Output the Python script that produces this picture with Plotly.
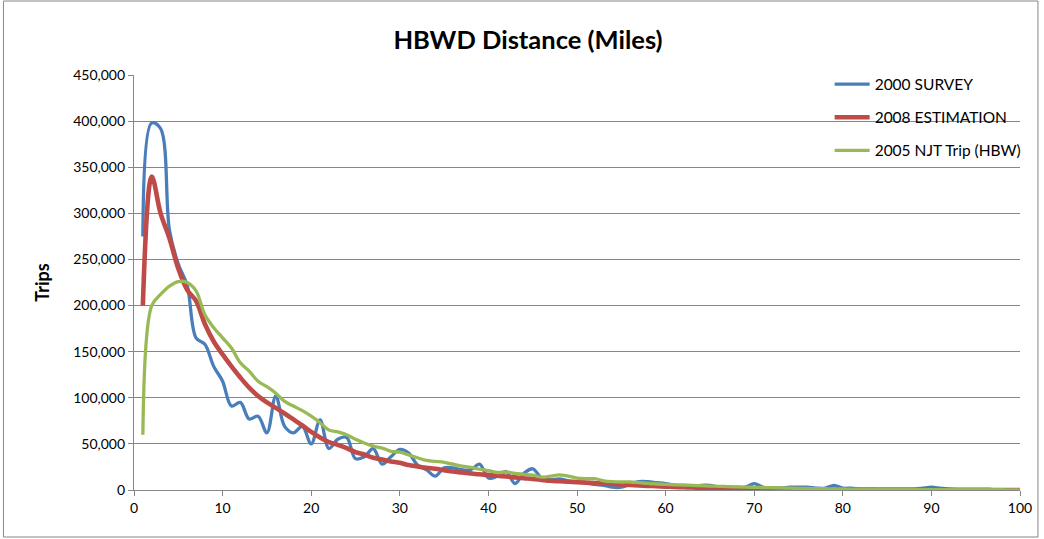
import plotly.graph_objects as go

# ---- data ----
miles = list(range(1, 101))

survey_2000 = [
    275000, 398000, 392000, 282000, 245000, 222000, 165000, 158000, 134000, 118000,
    91000, 95000, 77000, 80000, 62000, 102000, 69000, 62000, 69000, 50000,
    76000, 45000, 55000, 57000, 34000, 36000, 45000, 28000, 36000, 44000,
    40000, 27000, 22000, 15000, 24000, 24000, 22000, 22000, 28000, 13000,
    15000, 20000, 7000, 18000, 23000, 13000, 11000, 12000, 10000, 9000,
    8000, 6000, 5000, 3000, 3000, 6000, 9000, 9000, 8000, 7000,
    5000, 4000, 4000, 5000, 5000, 3000, 2000, 3000, 3000, 7000,
    3000, 2000, 2000, 3000, 3000, 3000, 2000, 2000, 5000, 2000,
    2000, 1000, 1000, 1000, 1000, 1000, 1000, 1000, 2000, 3000,
    2000, 1000, 500, 500, 300, 300, 200, 200, 100, 100,
]

estimation_2008 = [
    200000, 340000, 300000, 273000, 240000, 217000, 205000, 180000, 161000, 147000,
    134000, 122000, 111000, 102000, 95000, 89000, 83000, 76500, 70000, 63000,
    57000, 52000, 49000, 45500, 41000, 38500, 35000, 33000, 31000, 29500,
    27000, 25500, 24000, 23000, 21500, 20000, 19000, 18000, 17000, 16400,
    15500, 14600, 13700, 12800, 12000, 11000, 10000, 9500, 9000, 8500,
    8000, 7500, 7000, 6500, 6000, 5500, 5000, 4500, 4000, 3600,
    3300, 3000, 2700, 2400, 2100, 1900, 1700, 1500, 1300, 1200,
    1100, 1000, 900, 800, 750, 700, 650, 600, 550, 500,
    450, 400, 380, 350, 320, 300, 280, 250, 230, 200,
    180, 160, 150, 130, 120, 100, 80, 60, 40, 20,
]

njt_2005 = [
    60000, 200000, 212000, 221000, 226000, 225000, 216000, 190000, 176000, 165000,
    154000, 138000, 129000, 118000, 112000, 105000, 96000, 91000, 86000, 80000,
    73000, 65000, 63000, 60000, 55000, 51000, 47500, 45500, 42000, 41000,
    38000, 35000, 32000, 31000, 30000, 28000, 26000, 24500, 22500, 21000,
    19000, 19500, 18000, 17000, 16000, 14000, 15000, 16500, 15000, 13000,
    12300, 12300, 10000, 9000, 8700, 8700, 8000, 7200, 6500, 6100,
    5700, 5400, 5000, 4700, 4300, 4000, 3700, 3300, 3100, 2900,
    2700, 2500, 2300, 2000, 1800, 1700, 1500, 1400, 1200, 1100,
    1000, 950, 900, 800, 700, 650, 600, 550, 500, 500,
    450, 400, 400, 350, 300, 300, 250, 250, 200, 200,
]

series_names = ["2000 SURVEY", "2008 ESTIMATION", "2005 NJT Trip (HBW)"]
x_ticks = list(range(0, 101, 10))
y_ticks = list(range(0, 450001, 50000))

FONT = "Lato"
W, H = 1044, 539
ML, MR, MT, MB = 134, 21, 75, 49
PW, PH = W - ML - MR, H - MT - MB

fig = go.Figure()
fig.add_trace(go.Scatter(x=miles, y=survey_2000, name=series_names[0], mode="lines",
                         line=dict(color="#4A7EBB", width=3.3, shape="spline", smoothing=1.0),
                         legendgroup="a"))
fig.add_trace(go.Scatter(x=miles, y=estimation_2008, name=series_names[1], mode="lines",
                         line=dict(color="#BE4B48", width=4.6, shape="spline", smoothing=1.0),
                         legendgroup="b"))
fig.add_trace(go.Scatter(x=miles, y=njt_2005, name=series_names[2], mode="lines",
                         line=dict(color="#98B954", width=3.3, shape="spline", smoothing=1.0),
                         legendgroup="c"))

fig.update_layout(
    width=W, height=H,
    margin=dict(l=ML, r=MR, t=MT, b=MB, pad=0),
    paper_bgcolor="white", plot_bgcolor="white",
    font=dict(family=FONT, size=14, color="#000000"),
    title=dict(text="<b>HBWD Distance (Miles)</b>", x=(528) / W, xanchor="center",
               y=1 - 40 / H, yanchor="middle", font=dict(family=FONT, size=25.5, color="#000000")),
    legend=dict(x=(832 - ML) / PW, y=1.018, xanchor="left", yanchor="top",
                bgcolor="rgba(0,0,0,0)", font=dict(family=FONT, size=15.5, color="#000000"),
                tracegroupgap=10, itemwidth=35),
    showlegend=True,
)

fig.update_xaxes(range=[0, 100], tickvals=x_ticks, ticktext=[str(v) for v in x_ticks],
                 showgrid=False, zeroline=False, showline=True, linecolor="#868686", linewidth=1.2,
                 ticks="outside", ticklen=5, tickcolor="#868686",
                 tickfont=dict(family=FONT, size=14, color="#000000"))
fig.update_yaxes(range=[0, 450000], tickvals=y_ticks, ticktext=[f"{v:,}" for v in y_ticks],
                 showgrid=True, gridcolor="#868686", gridwidth=1.1, zeroline=False,
                 showline=True, linecolor="#868686", linewidth=1.2,
                 ticks="outside", ticklen=5, tickcolor="#868686",
                 tickfont=dict(family=FONT, size=14, color="#000000"),
                 title=dict(text="<b>Trips</b>", font=dict(family=FONT, size=18, color="#000000"),
                            standoff=18))

# outer chart border
fig.add_shape(type="rect", xref="paper", yref="paper",
              x0=(3 - ML) / PW, x1=(1041 - ML) / PW,
              y0=(MT + PH - 537) / PH, y1=(MT + PH - 1) / PH,
              line=dict(color="#868686", width=1), fillcolor="rgba(0,0,0,0)", layer="below")

fig.write_html("out.html")
